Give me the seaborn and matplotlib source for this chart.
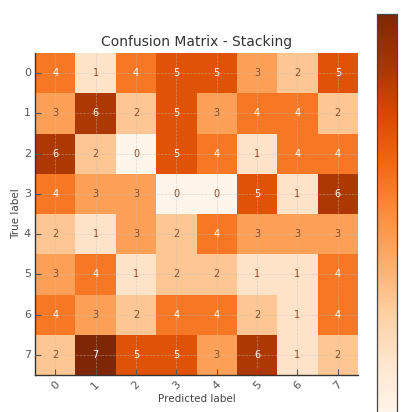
import numpy as np
import pandas as pd
import seaborn as sns
import matplotlib
matplotlib.use("Agg")
import matplotlib.pyplot as plt

labels = ["0", "1", "2", "3", "4", "5", "6", "7"]
row0 = [4, 1, 4, 5, 5, 3, 2, 5]
row1 = [3, 6, 2, 5, 3, 4, 4, 2]
row2 = [6, 2, 0, 5, 4, 1, 4, 4]
row3 = [4, 3, 3, 0, 0, 5, 1, 6]
row4 = [2, 1, 3, 2, 4, 3, 3, 3]
row5 = [3, 4, 1, 2, 2, 1, 1, 4]
row6 = [4, 3, 2, 4, 4, 2, 1, 4]
row7 = [2, 7, 5, 5, 3, 6, 1, 2]

cm = pd.DataFrame([row0, row1, row2, row3, row4, row5, row6, row7],
                  index=labels, columns=labels)

sns.set_style("white")
plt.rcParams["font.family"] = ["DejaVu Sans"]

fig = plt.figure(figsize=(4.01, 4.12), dpi=100)
ax = fig.add_axes([35/401, 1-375/412, 323/401, 322/412])
cax = fig.add_axes([377/401, 1-414/412, 20/401, 400/412])

sns.heatmap(cm, ax=ax, cbar_ax=cax, cmap="Oranges", vmin=0, vmax=7,
            annot=True, fmt="d", annot_kws={"fontsize": 7})

for t in ax.texts:
    r, g, b, a = matplotlib.colors.to_rgba(t.get_color())
    if r < 0.5:
        t.set_color("#8a4a2a")

ax.set_title("Confusion Matrix - Stacking", fontsize=10, color="#333333", pad=5)
ax.set_xlabel("Predicted label", fontsize=7.5, color="#444444", labelpad=2)
ax.set_ylabel("True label", fontsize=7.5, color="#444444", labelpad=2)
ax.tick_params(axis="x", labelrotation=45, labelsize=8, colors="#555555",
               direction="in", length=4, width=0.8, bottom=True, pad=3)
ax.tick_params(axis="y", labelrotation=0, labelsize=8, colors="#555555",
               direction="in", length=4, width=0.8, left=True, pad=3)
for lab in ax.get_xticklabels():
    lab.set_color("#555555")
for lab in ax.get_yticklabels():
    lab.set_color("#555555")
ax.grid(True, color="#c0c0c0", linestyle="--", linewidth=0.5, alpha=0.55)
ax.set_axisbelow(False)
for side in ["top", "right"]:
    ax.spines[side].set_visible(False)
for side in ["left", "bottom"]:
    ax.spines[side].set_visible(True)
    ax.spines[side].set_color("#333333")
    ax.spines[side].set_linewidth(1.0)

cax.tick_params(direction="in", length=3, width=0.8, colors="#555555",
                labelright=False, labelleft=False)
for s in cax.spines.values():
    s.set_visible(True)
    s.set_linewidth(0.8)
    s.set_color("#444444")
cax.spines["left"].set_color("#222222")

fig.savefig("out.png", dpi=100)
